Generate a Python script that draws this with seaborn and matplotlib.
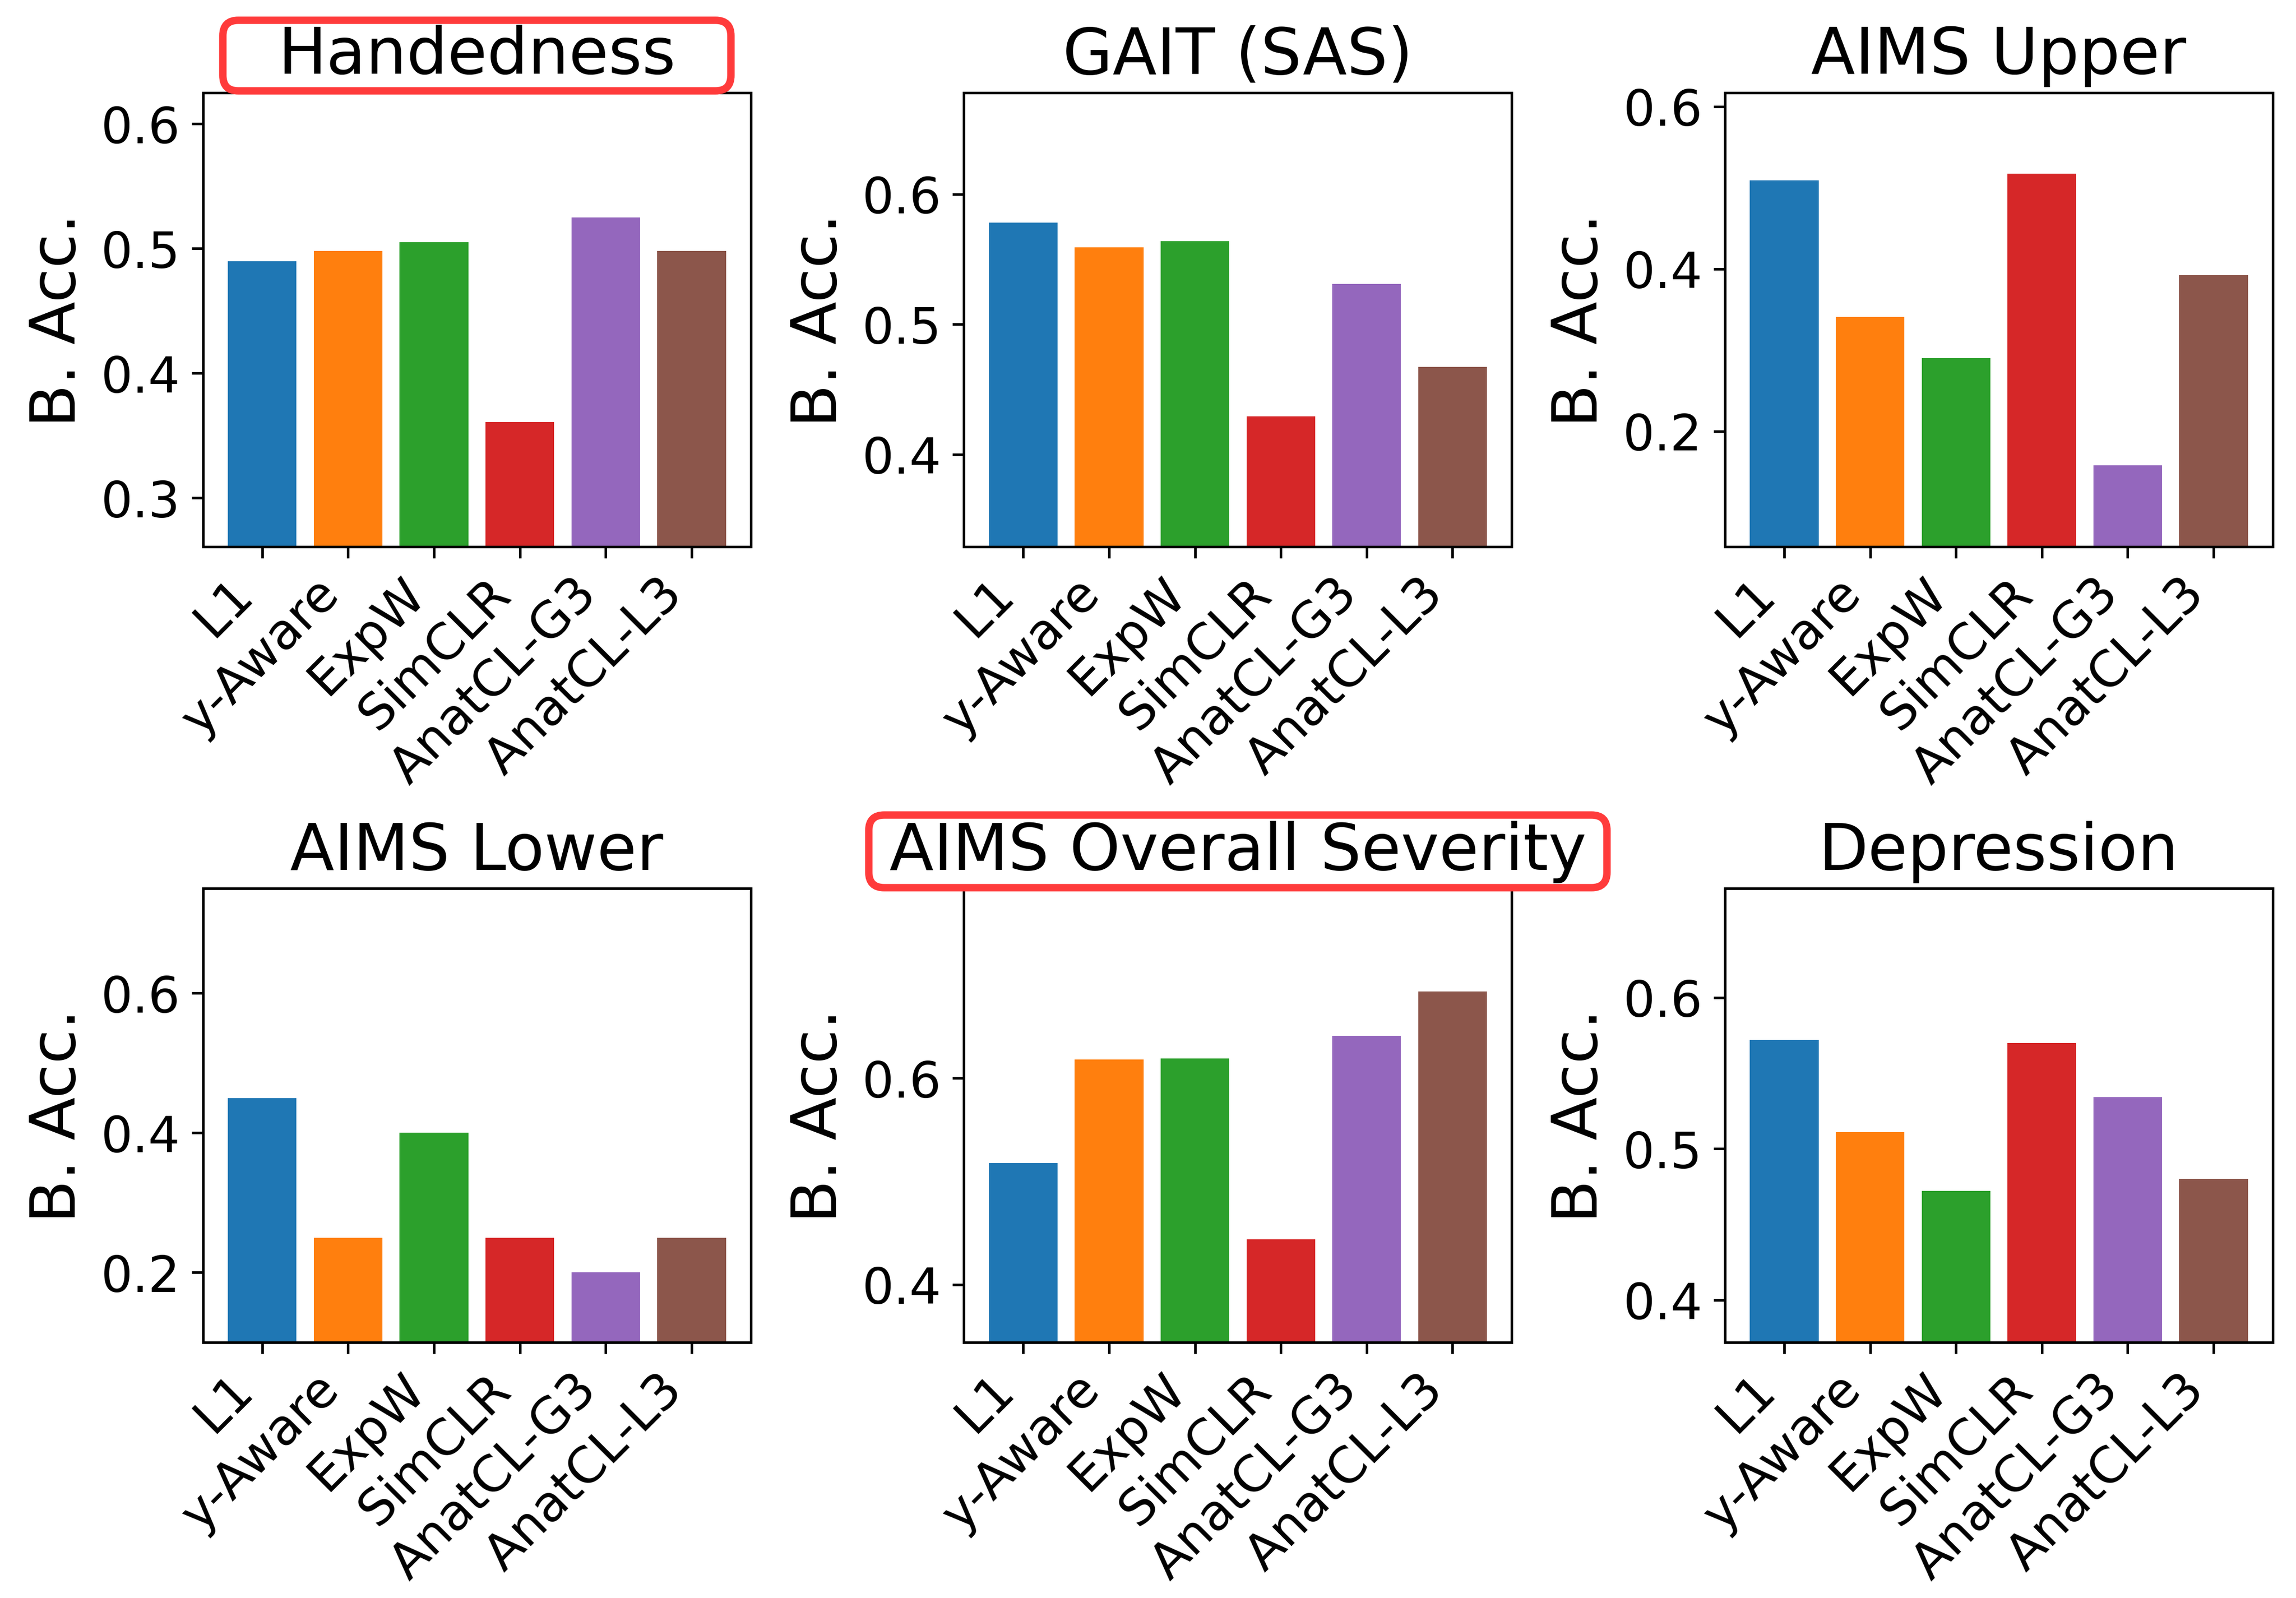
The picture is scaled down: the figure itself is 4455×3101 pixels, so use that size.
import matplotlib
matplotlib.use("Agg")
import matplotlib.pyplot as plt
import seaborn as sns
from matplotlib.patches import FancyBboxPatch
from matplotlib.transforms import IdentityTransform
from matplotlib.ticker import MultipleLocator

# --- datos ---
methods = ['L1', 'y-Aware', 'ExpW', 'SimCLR', 'AnatCL-G3', 'AnatCL-L3']
titles = ['Handedness', 'GAIT (SAS)', 'AIMS Upper',
          'AIMS Lower', 'AIMS Overall Severity', 'Depression']

handedness = [0.490, 0.498, 0.505, 0.361, 0.525, 0.498]
gait_sas = [0.578, 0.559, 0.564, 0.429, 0.531, 0.467]
aims_upper = [0.509, 0.341, 0.290, 0.517, 0.158, 0.392]
aims_lower = [0.450, 0.250, 0.400, 0.250, 0.200, 0.250]
aims_overall = [0.518, 0.618, 0.619, 0.444, 0.641, 0.684]
depression = [0.572, 0.511, 0.472, 0.570, 0.534, 0.480]

series = [handedness, gait_sas, aims_upper, aims_lower, aims_overall, depression]
highlighted = ['Handedness', 'AIMS Overall Severity']

# estilo
colors = ['#1f77b4', '#ff7f0e', '#2ca02c', '#d62728', '#9467bd', '#8c564b']
top_margin = [0.1, 0.1, 0.1, 0.3, 0.1, 0.1]
tick_step = [0.1, 0.1, 0.2, 0.2, 0.2, 0.1]
box_pad = {'Handedness': (107, 8), 'AIMS Overall Severity': (40, 10)}  # px

fig, axes = plt.subplots(2, 3, figsize=(9.9, 6.8933), dpi=450)
plt.subplots_adjust(left=0.0884, right=0.9899, bottom=0.1599, top=0.9417,
                    wspace=0.389, hspace=0.753)

for ax, title, vals, tm, step in zip(axes.flat, titles, series, top_margin, tick_step):
    sns.barplot(x=methods, y=vals, hue=methods, palette=colors, saturation=1,
                legend=False, ax=ax)
    ax.set_xlim(-0.69, 5.69)
    ax.set_ylim(min(vals) - 0.1, max(vals) + tm)
    ax.yaxis.set_major_locator(MultipleLocator(step))
    ax.set_title(title, fontsize=20)
    ax.set_ylabel('B. Acc.', fontsize=19.5)
    ax.set_xlabel('')
    ax.tick_params(axis='y', labelsize=15.5)
    ax.tick_params(axis='x', labelsize=15.5)
    plt.setp(ax.get_xticklabels(), rotation=45, ha='right')

# recuadros rojos alrededor de los títulos destacados
fig.canvas.draw()
renderer = fig.canvas.get_renderer()
for ax in axes.flat:
    t = ax.title
    if t.get_text() in highlighted:
        bb = t.get_window_extent(renderer)
        px, py = box_pad[t.get_text()]
        box = FancyBboxPatch((bb.x0 - px, bb.y0 - py), bb.width + 2 * px, bb.height + 2 * py,
                             boxstyle='round,pad=0,rounding_size=30',
                             transform=IdentityTransform(), fill=False,
                             edgecolor='#ff3b3b', linewidth=2.3, zorder=10)
        fig.patches.append(box)

plt.savefig('out.png', dpi=450)
